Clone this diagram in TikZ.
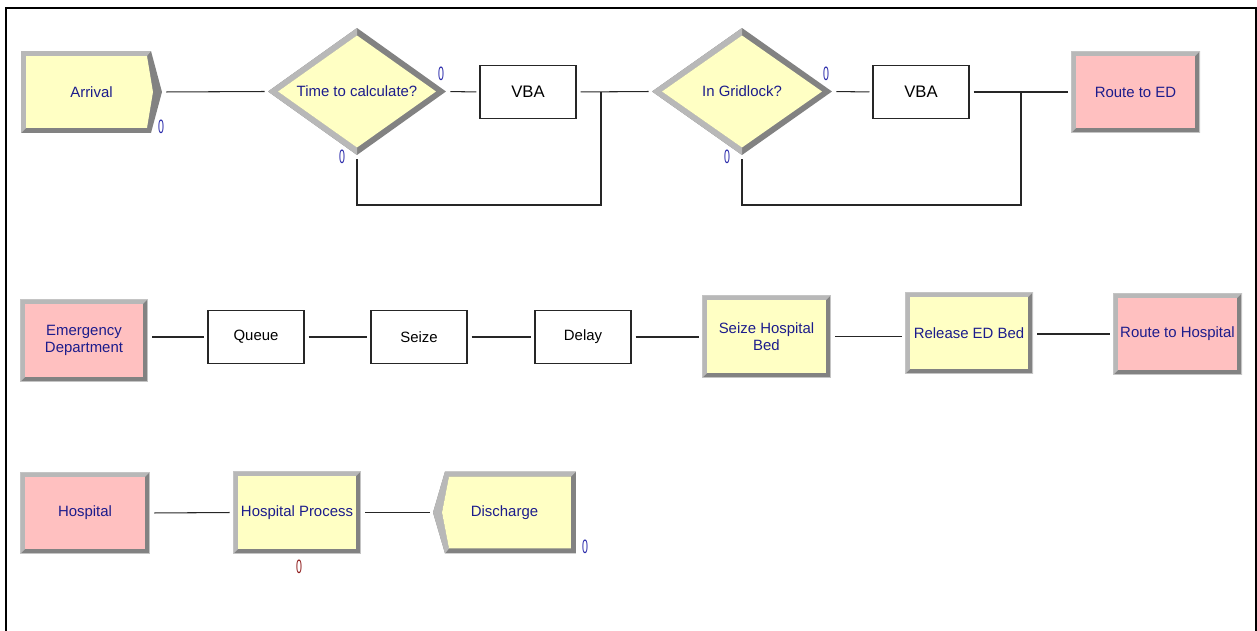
\documentclass[tikz,border=0pt]{standalone}
\usepackage{fontspec}
\setmainfont{Liberation Sans}
\usetikzlibrary{calc, positioning}
\definecolor{arenayel}{HTML}{FFFFC4}
\definecolor{arenapink}{HTML}{FFC0C0}
\definecolor{bvlight}{HTML}{B8B8B8}
\definecolor{bvdark}{HTML}{828282}
\definecolor{bvedge}{HTML}{C4C4C4}
\definecolor{navy}{HTML}{1C1C8C}
\definecolor{cntblue}{HTML}{2A2AAA}
\definecolor{cntred}{HTML}{8E1C1C}

\newcommand{\bw}{0.1cm}
% narrow counter digit
\newcommand{\tallzero}{\scalebox{0.55}[1]{0}}
% corners of the current path picture
\newcommand{\ppcorners}{%
  \coordinate (ppsw) at (path picture bounding box.south west);
  \coordinate (ppne) at (path picture bounding box.north east);
  \coordinate (ppnw) at (path picture bounding box.north west);
  \coordinate (ppse) at (path picture bounding box.south east);
  \coordinate (ppn) at (path picture bounding box.north);
  \coordinate (pps) at (path picture bounding box.south);
  \coordinate (ppe) at (path picture bounding box.east);
  \coordinate (ppw) at (path picture bounding box.west);
}
% beveled rectangle
\newcommand{\bevelrect}[1]{%
  \ppcorners
  \fill[bvdark] (ppsw) rectangle (ppne);
  \fill[bvlight] (ppsw) -- (ppnw) -- (ppne) -- ($(ppne)+(-\bw,-\bw)$)
    -- ($(ppnw)+(\bw,-\bw)$) -- ($(ppsw)+(\bw,\bw)$) -- cycle;
  \fill[#1] ($(ppsw)+(\bw,\bw)$) rectangle ($(ppne)+(-\bw,-\bw)$);
  \draw[bvedge, line width=0.8pt] (ppsw) rectangle (ppne);
}
% beveled diamond
\newcommand{\beveldiamond}[1]{%
  \ppcorners
  \fill[bvdark] (ppw) -- (ppn) -- (ppe) -- (pps) -- cycle;
  \fill[bvlight] (ppw) -- (ppn) -- ($(ppn)+(0,-0.15cm)$) -- ($(ppw)+(0.2cm,0)$)
    -- ($(pps)+(0,0.15cm)$) -- (pps) -- cycle;
  \fill[#1] ($(ppw)+(0.2cm,0)$) -- ($(ppn)+(0,-0.15cm)$)
    -- ($(ppe)+(-0.2cm,0)$) -- ($(pps)+(0,0.15cm)$) -- cycle;
}
% beveled arrow shape pointing right
\newcommand{\bevelright}[1]{%
  \ppcorners
  \fill[bvdark] (ppnw) -- ($(ppne)+(-0.22cm,0)$) -- (ppe)
    -- ($(ppse)+(-0.22cm,0)$) -- (ppsw) -- cycle;
  \fill[bvlight] (ppsw) -- (ppnw) -- ($(ppne)+(-0.22cm,0)$)
    -- ($(ppne)+(-0.3cm,-\bw)$) -- ($(ppnw)+(\bw,-\bw)$) -- ($(ppsw)+(\bw,\bw)$) -- cycle;
  \fill[#1] ($(ppnw)+(\bw,-\bw)$) -- ($(ppne)+(-0.3cm,-\bw)$) -- ($(ppe)+(-0.18cm,0)$)
    -- ($(ppse)+(-0.3cm,\bw)$) -- ($(ppsw)+(\bw,\bw)$) -- cycle;
}
% beveled arrow shape pointing left
\newcommand{\bevelleft}[1]{%
  \ppcorners
  \fill[bvdark] (ppw) -- ($(ppnw)+(0.24cm,0)$) -- (ppne) -- (ppse)
    -- ($(ppsw)+(0.24cm,0)$) -- cycle;
  \fill[bvlight] ($(ppsw)+(0.24cm,0)$) -- (ppw) -- ($(ppnw)+(0.24cm,0)$) -- (ppne)
    -- ($(ppne)+(-\bw,-\bw)$) -- ($(ppnw)+(0.32cm,-\bw)$) -- ($(ppw)+(0.18cm,0)$)
    -- ($(ppsw)+(0.32cm,\bw)$) -- cycle;
  \fill[#1] ($(ppw)+(0.18cm,0)$) -- ($(ppnw)+(0.32cm,-\bw)$) -- ($(ppne)+(-\bw,-\bw)$)
    -- ($(ppse)+(-\bw,\bw)$) -- ($(ppsw)+(0.32cm,\bw)$) -- cycle;
}

\begin{document}
\begin{tikzpicture}[
    x=0.02cm, y=-0.02cm,
    arena/.style={rectangle, inner sep=0pt, align=center,
      font=\fontsize{8.5}{10}\selectfont, text=navy,
      minimum width=2.58cm, minimum height=1.64cm},
    proc/.style={arena, path picture={\bevelrect{arenayel}}},
    station/.style={arena, path picture={\bevelrect{arenapink}}},
    decide/.style={arena, minimum width=3.56cm, minimum height=2.54cm,
      path picture={\beveldiamond{arenayel}}},
    vbabox/.style={rectangle, draw=black!85, line width=0.6pt, fill=white,
      minimum width=1.92cm, minimum height=1.07cm,
      font=\fontsize{8.5}{10}\selectfont, text=black},
    cnt/.style={inner sep=0pt, font=\fontsize{11}{12}\selectfont, text=cntblue},
    link/.style={draw=black!85, line width=0.6pt, shorten <=0.08cm, shorten >=0.06cm},
  ]
  \useasboundingbox (0,0) rectangle (1257,631);

  % ===== Frame =====
  \draw[line width=1.2pt] (6,631) -- (6,8) -- (1256,8) -- (1256,631);

  % ===== Top row: arrival and decisions =====
  \node[arena, minimum width=2.82cm, path picture={\bevelright{arenayel}}]
    (arrival) at (91.5,92) {Arrival};
  \node[decide] (calc) at (357,91.5) {Time to calculate?};
  \node[vbabox, font=\fontsize{9.5}{11}\selectfont] (vba1) at (528,92) {VBA};
  \node[decide, minimum width=3.6cm] (gridlock) at (742,91.5) {In Gridlock?};
  \node[vbabox, font=\fontsize{9.5}{11}\selectfont] (vba2) at (921,92) {VBA};
  \node[station] (routeed) at (1135.5,92) {Route to ED};

  \node[cnt] (arrivalcnt) at (161,127) {\tallzero};
  \node[cnt] (calctrue) at (441,74) {\tallzero};
  \node[cnt] (calcfalse) at (342,157) {\tallzero};
  \node[cnt] (gridtrue) at (826,74) {\tallzero};
  \node[cnt] (gridfalse) at (727,157) {\tallzero};

  \coordinate (join1) at (601,92);
  \coordinate (loop1) at (601,205);
  \coordinate (join2) at (1021,92);
  \coordinate (loop2) at (1021,205);

  \draw[link] (arrival.east) -- (calc.west);
  \draw[link] (calc.east) -- (vba1.west);
  \draw[link] (vba1.east) -- (gridlock.west);
  \draw[link, shorten >=0pt] (calc.south) |- (loop1) -- (join1);
  \draw[link] (gridlock.east) -- (vba2.west);
  \draw[link] (vba2.east) -- (routeed.west);
  \draw[link, shorten >=0pt] (gridlock.south) |- (loop2) -- (join2);

  % ===== Middle row: emergency department =====
  \node[station, minimum width=2.56cm, minimum height=1.66cm] (ed) at (84,340.5)
    {Emergency\\Department};
  \node[vbabox] (queue) at (256,337) {Queue};
  \node[vbabox] (seize) at (419,337) {Seize};
  \node[vbabox] (delay) at (583,337) {Delay};
  \node[proc, minimum height=1.66cm] (seizebed) at (766.5,336.5) {Seize Hospital\\Bed};
  \node[proc, minimum width=2.56cm] (release) at (969,333) {Release ED Bed};
  \node[station] (routehosp) at (1177.5,334) {Route to Hospital};

  \draw[link] (ed.east |- queue.west) -- (queue.west);
  \draw[link] (queue.east) -- (seize.west);
  \draw[link] (seize.east) -- (delay.west);
  \draw[link] (delay.east) -- (seizebed.west |- delay.east);
  \draw[link] (seizebed.east) -- (seizebed.east -| release.west);
  \draw[link] (release.east |- routehosp.west) -- (routehosp.west);

  % ===== Bottom row: hospital =====
  \node[station, minimum width=2.6cm] (hospital) at (85,513) {Hospital};
  \node[proc, minimum width=2.56cm, minimum height=1.66cm] (hproc) at (297,512.5)
    {Hospital Process};
  \node[arena, minimum width=2.86cm, path picture={\bevelleft{arenayel}}]
    (discharge) at (504.5,512.5) {Discharge};

  \node[cnt, text=cntred] (hproccnt) at (299,567) {\tallzero};
  \node[cnt] (dischargecnt) at (585,547) {\tallzero};

  \draw[link] (hospital.east) -- (hproc.west);
  \draw[link] (hproc.east) -- (discharge.west);

\end{tikzpicture}
\end{document}
